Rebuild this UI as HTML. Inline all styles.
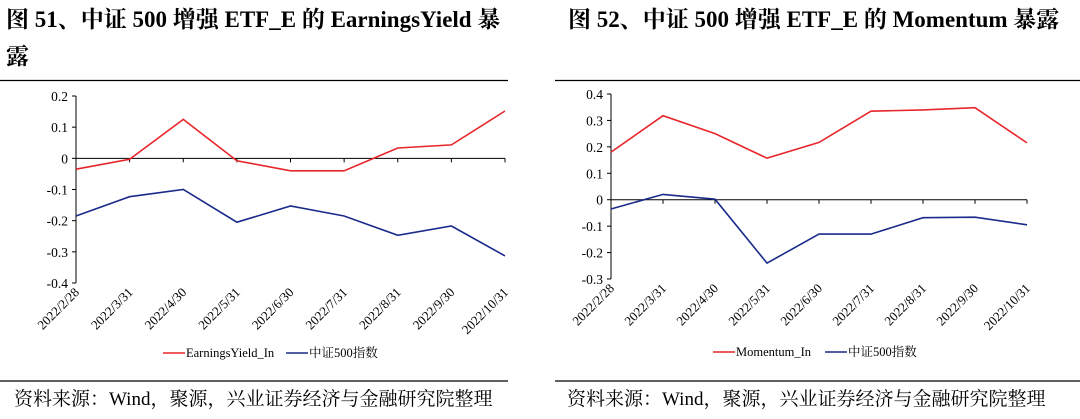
<!DOCTYPE html>
<html><head><meta charset="utf-8">
<style>
body{margin:0;background:#fff;width:1080px;height:419px;overflow:hidden;font-family:"Liberation Serif","Noto Serif CJK SC",serif;}
svg{position:absolute;left:0;top:0}
</style></head>
<body>
<svg id="c" width="1080" height="419" xmlns="http://www.w3.org/2000/svg">
<text x="6" y="27" font-size="23" font-weight="bold" font-family="Liberation Serif, Noto Serif CJK SC, serif">图 51、中证 500 增强 ETF_E 的 EarningsYield 暴</text>
<text x="6" y="64" font-size="23" font-weight="bold" font-family="Liberation Serif, Noto Serif CJK SC, serif">露</text>
<text x="568" y="27" font-size="23" font-weight="bold" font-family="Liberation Serif, Noto Serif CJK SC, serif">图 52、中证 500 增强 ETF_E 的 Momentum 暴露</text>
<line x1="0" y1="80.5" x2="508" y2="80.5" stroke="#000" stroke-width="1.2"/>
<line x1="555" y1="80.5" x2="1080" y2="80.5" stroke="#000" stroke-width="1.2"/>
<line x1="0" y1="381" x2="508" y2="381" stroke="#000" stroke-width="1.2"/>
<line x1="555" y1="381" x2="1080" y2="381" stroke="#000" stroke-width="1.2"/>
<text x="14" y="405" font-size="19">资料来源：Wind，聚源，兴业证券经济与金融研究院整理</text>
<text x="567" y="405" font-size="19">资料来源：Wind，聚源，兴业证券经济与金融研究院整理</text>
</svg>
<script>
const dates=["2022/2/28","2022/3/31","2022/4/30","2022/5/31","2022/6/30","2022/7/31","2022/8/31","2022/9/30","2022/10/31"];
const eyValues=[-0.035,-0.003,0.125,-0.008,-0.04,-0.04,0.033,0.043,0.152];
const csi500Left=[-0.185,-0.123,-0.1,-0.205,-0.153,-0.185,-0.247,-0.217,-0.313];
const leftTicks=[0.2,0.1,0,-0.1,-0.2,-0.3,-0.4];
const momValues=[0.18,0.318,0.25,0.157,0.217,0.335,0.34,0.348,0.215];
const csi500Right=[-0.035,0.02,0.002,-0.24,-0.13,-0.13,-0.068,-0.066,-0.095];
const rightTicks=[0.4,0.3,0.2,0.1,0,-0.1,-0.2,-0.3];
const NS="http://www.w3.org/2000/svg";
const svg=document.getElementById('c');
function mk(t,a){const e=document.createElementNS(NS,t);for(const k in a)e.setAttribute(k,a[k]);svg.appendChild(e);return e;}
function fmt(v){return v===0?"0":(Math.round(v*10)/10).toString();}
function chart(p){
  const yMax=p.ticks[0],yMin=p.ticks[p.ticks.length-1];
  const ys=v=>p.yTop+(yMax-v)/(yMax-yMin)*(p.yBot-p.yTop);
  const xs=i=>p.x0+i*(p.x1-p.x0)/(dates.length-1);
  let e=mk('line',{x1:p.x0,y1:p.yTop,x2:p.x0,y2:p.yBot,stroke:'#000','stroke-width':1});
  
  
  p.ticks.forEach(t=>{
    const y=ys(t);
    let l=mk('line',{x1:p.x0-4,y1:y,x2:p.x0,y2:y,stroke:'#000','stroke-width':1});
    
    
    let tx=mk('text',{x:p.x0-8,y:y+5,'font-size':13.5,'text-anchor':'end'});
    tx.textContent=fmt(t);
    
    
  });
  const y0=ys(0);
  e=mk('line',{x1:p.x0,y1:y0,x2:p.x1,y2:y0,stroke:'#000','stroke-width':1});
  
  
  dates.forEach((d,i)=>{
    const x=xs(i);
    let l=mk('line',{x1:x,y1:y0,x2:x,y2:y0+4,stroke:'#000','stroke-width':1});
    
    
    let tx=mk('text',{x:x+4,y:p.yBot+10,'font-size':13,'text-anchor':'end',transform:`rotate(-45 ${x+4} ${p.yBot+10})`});
    tx.textContent=d;
    
    
  });
  p.series.forEach(s=>{
    const pts=s.vals.map((v,i)=>xs(i).toFixed(1)+','+ys(v).toFixed(1)).join(' ');
    let pl=mk('polyline',{points:pts,fill:'none',stroke:s.color,'stroke-width':1.6});
    
    
    let ll=mk('line',{x1:s.lx,y1:p.legY,x2:s.lx+22,y2:p.legY,stroke:s.color,'stroke-width':1.6});
    
    
    let lt=mk('text',{x:s.lx+23,y:p.legY+4,'font-size':12.5});
    lt.textContent=s.name;
    
    
  });
}
chart({id:'left',x0:76,x1:505,yTop:96,yBot:283,ticks:leftTicks,legY:353,
  series:[{key:'earningsyield',name:'EarningsYield_In',vals:eyValues,color:'#e8262b',lx:163},
          {key:'csi500',name:'中证500指数',vals:csi500Left,color:'#1a2b8c',lx:286}]});
chart({id:'right',x0:611,x1:1027,yTop:94,yBot:279,ticks:rightTicks,legY:352,
  series:[{key:'momentum',name:'Momentum_In',vals:momValues,color:'#e8262b',lx:713},
          {key:'csi500',name:'中证500指数',vals:csi500Right,color:'#1a2b8c',lx:825}]});
</script>
</body></html>
